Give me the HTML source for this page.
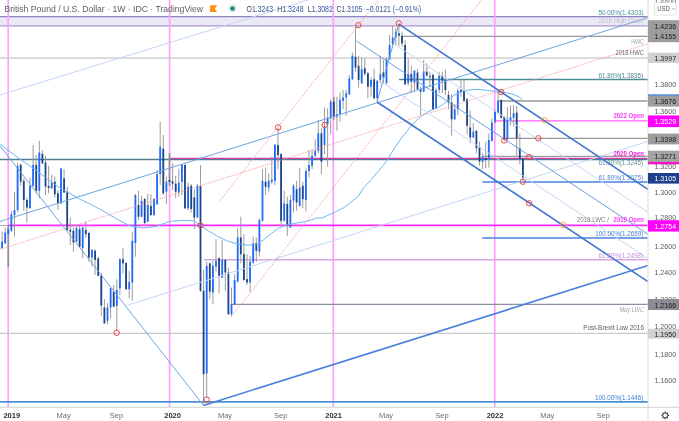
<!DOCTYPE html><html><head><meta charset="utf-8"><title>GBPUSD</title><style>
html,body{margin:0;padding:0;background:#fff;}body{width:679px;height:421px;overflow:hidden;font-family:"Liberation Sans",sans-serif;}svg{display:block;filter:blur(0.35px);font-family:"Liberation Sans",sans-serif;}
</style></head><body>
<svg width="679" height="421" viewBox="0 0 679 421">
<rect width="679" height="421" fill="#fff"/>
<defs><clipPath id="p"><rect x="0" y="0" width="648.0" height="407.3"/></clipPath></defs>
<g clip-path="url(#p)">
<rect x="0" y="16.7" width="648.0" height="9.1" fill="#ece9f6"/>
<line x1="0.0" y1="16.7" x2="648.0" y2="16.7" stroke="#8d82c2" stroke-width="1.3" />
<line x1="0.0" y1="25.8" x2="648.0" y2="25.8" stroke="#ab93d0" stroke-width="1.3" />
<line x1="8.2" y1="0.0" x2="8.2" y2="407.3" stroke="#ff9fff" stroke-width="1.7" />
<line x1="169.6" y1="0.0" x2="169.6" y2="407.3" stroke="#ff9fff" stroke-width="1.7" />
<line x1="333.3" y1="0.0" x2="333.3" y2="407.3" stroke="#ff9fff" stroke-width="1.7" />
<line x1="494.8" y1="0.0" x2="494.8" y2="407.3" stroke="#ff9fff" stroke-width="1.7" />
<line x1="0.0" y1="225.5" x2="8.3" y2="225.5" stroke="#b0b0b0" stroke-width="1.2" />
<line x1="401.7" y1="36.3" x2="648.0" y2="36.3" stroke="#989898" stroke-width="1.3" />
<line x1="0.0" y1="58.0" x2="648.0" y2="58.0" stroke="#cfcfcf" stroke-width="1.4" />
<line x1="399.0" y1="79.5" x2="648.0" y2="79.5" stroke="#4c8b97" stroke-width="1.4" />
<line x1="498.6" y1="101.0" x2="648.0" y2="101.0" stroke="#989898" stroke-width="1.4" />
<line x1="495.0" y1="120.8" x2="648.0" y2="120.8" stroke="#ff5cff" stroke-width="1.3" />
<line x1="504.0" y1="138.4" x2="648.0" y2="138.4" stroke="#989898" stroke-width="1.4" />
<line x1="482.5" y1="156.3" x2="648.0" y2="156.3" stroke="#9c9c9c" stroke-width="1.3" />
<line x1="0.0" y1="159.5" x2="648.0" y2="159.5" stroke="#4f7f8c" stroke-width="1.3" />
<line x1="169.6" y1="158.4" x2="648.0" y2="158.4" stroke="#d63ab0" stroke-width="1.1" />
<line x1="482.5" y1="182.0" x2="648.0" y2="182.0" stroke="#4a84d8" stroke-width="1.6" />
<line x1="8.3" y1="225.4" x2="648.0" y2="225.4" stroke="#ff2aff" stroke-width="1.8" />
<line x1="482.3" y1="238.0" x2="648.0" y2="238.0" stroke="#4a84d8" stroke-width="1.4" />
<line x1="203.7" y1="259.7" x2="648.0" y2="259.7" stroke="#d9a5e3" stroke-width="1.6" />
<line x1="231.7" y1="304.4" x2="648.0" y2="304.4" stroke="#8a8fa3" stroke-width="1.4" />
<line x1="0.0" y1="333.3" x2="648.0" y2="333.3" stroke="#c9c9c9" stroke-width="1.3" />
<line x1="0.0" y1="401.9" x2="648.0" y2="401.9" stroke="#4a90d9" stroke-width="1.7" />
<line x1="2.1" y1="231.7" x2="2.1" y2="249.0" stroke="#909090" stroke-width="0.9" />
<rect x="1.20" y="241.7" width="1.8" height="6.6" fill="#1f6bff"/>
<line x1="5.2" y1="227.5" x2="5.2" y2="244.0" stroke="#909090" stroke-width="0.9" />
<rect x="4.30" y="232.5" width="1.8" height="10.8" fill="#1f6bff"/>
<line x1="8.3" y1="225.8" x2="8.3" y2="267.0" stroke="#909090" stroke-width="1.6" />
<rect x="7.40" y="229.0" width="1.8" height="5.0" fill="#1f6bff"/>
<line x1="11.4" y1="210.8" x2="11.4" y2="232.0" stroke="#909090" stroke-width="0.9" />
<rect x="10.50" y="214.2" width="1.8" height="16.6" fill="#1f6bff"/>
<line x1="14.5" y1="191.7" x2="14.5" y2="236.7" stroke="#909090" stroke-width="0.9" />
<rect x="13.60" y="210.0" width="1.8" height="5.0" fill="#1f6bff"/>
<line x1="17.6" y1="163.0" x2="17.6" y2="212.0" stroke="#909090" stroke-width="0.9" />
<rect x="16.70" y="165.8" width="1.8" height="44.2" fill="#1f6bff"/>
<line x1="20.7" y1="163.8" x2="20.7" y2="185.8" stroke="#909090" stroke-width="0.9" />
<rect x="19.80" y="164.7" width="1.8" height="17.0" fill="#1c4587"/>
<line x1="23.8" y1="178.3" x2="23.8" y2="210.8" stroke="#909090" stroke-width="0.9" />
<rect x="22.90" y="180.8" width="1.8" height="19.2" fill="#1c4587"/>
<line x1="26.9" y1="197.5" x2="26.9" y2="222.5" stroke="#909090" stroke-width="0.9" />
<rect x="26.00" y="200.0" width="1.8" height="7.5" fill="#1c4587"/>
<line x1="30.0" y1="178.0" x2="30.0" y2="209.0" stroke="#909090" stroke-width="0.9" />
<rect x="29.10" y="185.8" width="1.8" height="22.2" fill="#1f6bff"/>
<line x1="33.1" y1="145.0" x2="33.1" y2="187.0" stroke="#909090" stroke-width="0.9" />
<rect x="32.20" y="165.0" width="1.8" height="20.8" fill="#1f6bff"/>
<line x1="36.2" y1="155.3" x2="36.2" y2="193.3" stroke="#909090" stroke-width="0.9" />
<rect x="35.30" y="165.0" width="1.8" height="25.8" fill="#1c4587"/>
<line x1="39.3" y1="140.8" x2="39.3" y2="198.3" stroke="#909090" stroke-width="0.9" />
<rect x="38.40" y="152.5" width="1.8" height="38.3" fill="#1f6bff"/>
<line x1="42.4" y1="150.3" x2="42.4" y2="164.0" stroke="#909090" stroke-width="0.9" />
<rect x="41.50" y="153.8" width="1.8" height="9.5" fill="#1c4587"/>
<line x1="45.5" y1="155.8" x2="45.5" y2="195.0" stroke="#909090" stroke-width="0.9" />
<rect x="44.60" y="162.5" width="1.8" height="24.2" fill="#1c4587"/>
<line x1="48.6" y1="165.8" x2="48.6" y2="193.3" stroke="#909090" stroke-width="0.9" />
<rect x="47.70" y="186.0" width="1.8" height="2.0" fill="#1c4587"/>
<line x1="51.7" y1="174.7" x2="51.7" y2="189.0" stroke="#909090" stroke-width="0.9" />
<rect x="50.80" y="182.5" width="1.8" height="5.8" fill="#1f6bff"/>
<line x1="54.8" y1="176.7" x2="54.8" y2="197.5" stroke="#909090" stroke-width="0.9" />
<rect x="53.90" y="181.7" width="1.8" height="12.5" fill="#1c4587"/>
<line x1="57.9" y1="190.0" x2="57.9" y2="210.0" stroke="#909090" stroke-width="0.9" />
<rect x="57.00" y="193.3" width="1.8" height="10.0" fill="#1c4587"/>
<line x1="61.0" y1="168.0" x2="61.0" y2="204.0" stroke="#909090" stroke-width="0.9" />
<rect x="60.10" y="168.7" width="1.8" height="34.6" fill="#1f6bff"/>
<line x1="64.1" y1="169.5" x2="64.1" y2="193.0" stroke="#909090" stroke-width="0.9" />
<rect x="63.20" y="178.3" width="1.8" height="14.2" fill="#1c4587"/>
<line x1="67.2" y1="186.7" x2="67.2" y2="231.0" stroke="#909090" stroke-width="0.9" />
<rect x="66.30" y="191.7" width="1.8" height="38.3" fill="#1c4587"/>
<line x1="70.3" y1="217.5" x2="70.3" y2="245.0" stroke="#909090" stroke-width="0.9" />
<rect x="69.40" y="229.7" width="1.8" height="2.0" fill="#1c4587"/>
<line x1="73.4" y1="227.5" x2="73.4" y2="251.7" stroke="#909090" stroke-width="0.9" />
<rect x="72.50" y="230.8" width="1.8" height="11.7" fill="#1c4587"/>
<line x1="76.5" y1="225.0" x2="76.5" y2="242.0" stroke="#909090" stroke-width="0.9" />
<rect x="75.60" y="228.0" width="1.8" height="13.7" fill="#1f6bff"/>
<line x1="79.6" y1="225.8" x2="79.6" y2="247.5" stroke="#909090" stroke-width="0.9" />
<rect x="78.70" y="229.2" width="1.8" height="17.5" fill="#1c4587"/>
<line x1="82.7" y1="226.7" x2="82.7" y2="258.3" stroke="#909090" stroke-width="0.9" />
<rect x="81.80" y="227.5" width="1.8" height="20.5" fill="#1f6bff"/>
<line x1="85.8" y1="221.7" x2="85.8" y2="238.0" stroke="#909090" stroke-width="0.9" />
<rect x="84.90" y="230.0" width="1.8" height="4.2" fill="#1c4587"/>
<line x1="88.9" y1="231.7" x2="88.9" y2="261.7" stroke="#909090" stroke-width="0.9" />
<rect x="88.00" y="233.0" width="1.8" height="24.5" fill="#1c4587"/>
<line x1="92.0" y1="249.0" x2="92.0" y2="266.7" stroke="#909090" stroke-width="0.9" />
<rect x="91.10" y="250.0" width="1.8" height="7.5" fill="#1f6bff"/>
<line x1="95.1" y1="249.0" x2="95.1" y2="275.0" stroke="#909090" stroke-width="0.9" />
<rect x="94.20" y="250.8" width="1.8" height="9.2" fill="#1c4587"/>
<line x1="98.2" y1="256.7" x2="98.2" y2="276.0" stroke="#909090" stroke-width="0.9" />
<rect x="97.30" y="258.3" width="1.8" height="17.5" fill="#1c4587"/>
<line x1="101.3" y1="273.0" x2="101.3" y2="315.8" stroke="#909090" stroke-width="0.9" />
<rect x="100.40" y="275.5" width="1.8" height="30.0" fill="#1c4587"/>
<line x1="104.4" y1="299.2" x2="104.4" y2="324.0" stroke="#909090" stroke-width="0.9" />
<rect x="103.50" y="307.5" width="1.8" height="15.8" fill="#1c4587"/>
<line x1="107.5" y1="303.3" x2="107.5" y2="324.2" stroke="#909090" stroke-width="0.9" />
<rect x="106.60" y="307.5" width="1.8" height="13.3" fill="#1f6bff"/>
<line x1="110.6" y1="287.5" x2="110.6" y2="318.3" stroke="#909090" stroke-width="0.9" />
<rect x="109.70" y="288.3" width="1.8" height="19.2" fill="#1f6bff"/>
<line x1="113.7" y1="285.0" x2="113.7" y2="307.5" stroke="#909090" stroke-width="0.9" />
<rect x="112.80" y="291.7" width="1.8" height="15.0" fill="#1c4587"/>
<line x1="116.8" y1="279.2" x2="116.8" y2="330.8" stroke="#909090" stroke-width="0.9" />
<rect x="115.90" y="290.0" width="1.8" height="15.8" fill="#1f6bff"/>
<line x1="119.9" y1="258.3" x2="119.9" y2="295.0" stroke="#909090" stroke-width="0.9" />
<rect x="119.00" y="259.2" width="1.8" height="29.1" fill="#1f6bff"/>
<line x1="123.0" y1="248.3" x2="123.0" y2="273.3" stroke="#909090" stroke-width="0.9" />
<rect x="122.10" y="259.2" width="1.8" height="4.1" fill="#1c4587"/>
<line x1="126.1" y1="262.0" x2="126.1" y2="290.0" stroke="#909090" stroke-width="0.9" />
<rect x="125.20" y="263.0" width="1.8" height="26.2" fill="#1c4587"/>
<line x1="129.2" y1="270.8" x2="129.2" y2="298.3" stroke="#909090" stroke-width="0.9" />
<rect x="128.30" y="282.0" width="1.8" height="7.2" fill="#1f6bff"/>
<line x1="132.3" y1="231.7" x2="132.3" y2="300.5" stroke="#909090" stroke-width="0.9" />
<rect x="131.40" y="240.8" width="1.8" height="41.7" fill="#1f6bff"/>
<line x1="135.4" y1="194.0" x2="135.4" y2="256.7" stroke="#909090" stroke-width="0.9" />
<rect x="134.50" y="195.0" width="1.8" height="48.0" fill="#1f6bff"/>
<line x1="138.5" y1="190.8" x2="138.5" y2="220.0" stroke="#909090" stroke-width="0.9" />
<rect x="137.60" y="205.0" width="1.8" height="11.7" fill="#1c4587"/>
<line x1="141.6" y1="195.8" x2="141.6" y2="217.5" stroke="#909090" stroke-width="0.9" />
<rect x="140.70" y="201.0" width="1.8" height="15.7" fill="#1f6bff"/>
<line x1="144.7" y1="198.0" x2="144.7" y2="224.0" stroke="#909090" stroke-width="0.9" />
<rect x="143.80" y="199.0" width="1.8" height="24.0" fill="#1c4587"/>
<line x1="147.8" y1="194.0" x2="147.8" y2="222.5" stroke="#909090" stroke-width="0.9" />
<rect x="146.90" y="205.0" width="1.8" height="16.7" fill="#1f6bff"/>
<line x1="150.9" y1="194.2" x2="150.9" y2="216.0" stroke="#909090" stroke-width="0.9" />
<rect x="150.00" y="205.8" width="1.8" height="9.2" fill="#1c4587"/>
<line x1="154.0" y1="198.3" x2="154.0" y2="216.0" stroke="#909090" stroke-width="0.9" />
<rect x="153.10" y="199.0" width="1.8" height="16.0" fill="#1f6bff"/>
<line x1="157.1" y1="170.0" x2="157.1" y2="205.0" stroke="#909090" stroke-width="0.9" />
<rect x="156.20" y="174.2" width="1.8" height="30.0" fill="#1f6bff"/>
<line x1="160.2" y1="121.5" x2="160.2" y2="185.0" stroke="#909090" stroke-width="0.9" />
<rect x="159.30" y="146.7" width="1.8" height="27.5" fill="#1f6bff"/>
<line x1="163.3" y1="135.0" x2="163.3" y2="195.0" stroke="#909090" stroke-width="0.9" />
<rect x="162.40" y="148.7" width="1.8" height="44.6" fill="#1c4587"/>
<line x1="166.4" y1="176.7" x2="166.4" y2="204.2" stroke="#909090" stroke-width="0.9" />
<rect x="165.50" y="181.7" width="1.8" height="10.0" fill="#1f6bff"/>
<line x1="169.5" y1="153.3" x2="169.5" y2="186.0" stroke="#909090" stroke-width="1.6" />
<rect x="168.60" y="180.0" width="1.8" height="2.0" fill="#1c4587"/>
<line x1="172.6" y1="163.3" x2="172.6" y2="190.0" stroke="#909090" stroke-width="0.9" />
<rect x="171.70" y="181.3" width="1.8" height="2.4" fill="#1c4587"/>
<line x1="175.7" y1="175.8" x2="175.7" y2="198.3" stroke="#909090" stroke-width="0.9" />
<rect x="174.80" y="183.7" width="1.8" height="8.0" fill="#1c4587"/>
<line x1="178.8" y1="168.7" x2="178.8" y2="196.7" stroke="#909090" stroke-width="0.9" />
<rect x="177.90" y="182.5" width="1.8" height="10.0" fill="#1f6bff"/>
<line x1="181.9" y1="164.0" x2="181.9" y2="195.0" stroke="#909090" stroke-width="0.9" />
<rect x="181.00" y="164.7" width="1.8" height="17.3" fill="#1f6bff"/>
<line x1="185.0" y1="163.0" x2="185.0" y2="209.0" stroke="#909090" stroke-width="0.9" />
<rect x="184.10" y="165.0" width="1.8" height="43.3" fill="#1c4587"/>
<line x1="188.1" y1="182.5" x2="188.1" y2="210.0" stroke="#909090" stroke-width="0.9" />
<rect x="187.20" y="186.7" width="1.8" height="21.6" fill="#1f6bff"/>
<line x1="191.2" y1="184.0" x2="191.2" y2="212.5" stroke="#909090" stroke-width="0.9" />
<rect x="190.30" y="185.8" width="1.8" height="23.2" fill="#1c4587"/>
<line x1="194.3" y1="189.2" x2="194.3" y2="229.2" stroke="#909090" stroke-width="0.9" />
<rect x="193.40" y="197.5" width="1.8" height="20.0" fill="#1c4587"/>
<line x1="197.4" y1="184.0" x2="197.4" y2="218.0" stroke="#909090" stroke-width="0.9" />
<rect x="196.50" y="185.8" width="1.8" height="31.7" fill="#1f6bff"/>
<line x1="200.5" y1="165.0" x2="200.5" y2="292.0" stroke="#909090" stroke-width="0.9" />
<rect x="199.60" y="185.8" width="1.8" height="105.0" fill="#1c4587"/>
<line x1="203.6" y1="270.0" x2="203.6" y2="404.4" stroke="#909090" stroke-width="0.9" />
<rect x="202.70" y="290.8" width="1.8" height="83.4" fill="#1c4587"/>
<line x1="206.7" y1="261.7" x2="206.7" y2="397.7" stroke="#909090" stroke-width="0.9" />
<rect x="205.80" y="265.8" width="1.8" height="107.5" fill="#1f6bff"/>
<line x1="209.8" y1="262.5" x2="209.8" y2="299.2" stroke="#909090" stroke-width="0.9" />
<rect x="208.90" y="263.3" width="1.8" height="28.4" fill="#1c4587"/>
<line x1="212.9" y1="260.8" x2="212.9" y2="304.2" stroke="#909090" stroke-width="0.9" />
<rect x="212.00" y="265.8" width="1.8" height="26.7" fill="#1f6bff"/>
<line x1="216.0" y1="239.2" x2="216.0" y2="271.7" stroke="#909090" stroke-width="0.9" />
<rect x="215.10" y="260.8" width="1.8" height="5.9" fill="#1f6bff"/>
<line x1="219.1" y1="257.0" x2="219.1" y2="293.3" stroke="#909090" stroke-width="0.9" />
<rect x="218.20" y="258.3" width="1.8" height="17.5" fill="#1c4587"/>
<line x1="222.2" y1="240.0" x2="222.2" y2="278.0" stroke="#909090" stroke-width="0.9" />
<rect x="221.30" y="260.0" width="1.8" height="17.5" fill="#1f6bff"/>
<line x1="225.3" y1="259.0" x2="225.3" y2="290.8" stroke="#909090" stroke-width="0.9" />
<rect x="224.40" y="260.0" width="1.8" height="12.5" fill="#1c4587"/>
<line x1="228.4" y1="267.5" x2="228.4" y2="315.0" stroke="#909090" stroke-width="0.9" />
<rect x="227.50" y="272.5" width="1.8" height="41.7" fill="#1c4587"/>
<line x1="231.5" y1="287.5" x2="231.5" y2="315.8" stroke="#909090" stroke-width="0.9" />
<rect x="230.60" y="304.2" width="1.8" height="10.0" fill="#1f6bff"/>
<line x1="234.6" y1="274.2" x2="234.6" y2="305.0" stroke="#909090" stroke-width="0.9" />
<rect x="233.70" y="280.0" width="1.8" height="24.2" fill="#1f6bff"/>
<line x1="237.7" y1="228.3" x2="237.7" y2="282.5" stroke="#909090" stroke-width="0.9" />
<rect x="236.80" y="237.5" width="1.8" height="44.2" fill="#1f6bff"/>
<line x1="240.8" y1="216.7" x2="240.8" y2="263.3" stroke="#909090" stroke-width="0.9" />
<rect x="239.90" y="237.5" width="1.8" height="16.7" fill="#1c4587"/>
<line x1="243.9" y1="234.2" x2="243.9" y2="281.0" stroke="#909090" stroke-width="0.9" />
<rect x="243.00" y="254.2" width="1.8" height="25.8" fill="#1c4587"/>
<line x1="247.0" y1="254.2" x2="247.0" y2="285.0" stroke="#909090" stroke-width="0.9" />
<rect x="246.10" y="279.2" width="1.8" height="3.3" fill="#1c4587"/>
<line x1="250.1" y1="255.8" x2="250.1" y2="291.7" stroke="#909090" stroke-width="0.9" />
<rect x="249.20" y="261.7" width="1.8" height="20.8" fill="#1f6bff"/>
<line x1="253.2" y1="236.7" x2="253.2" y2="264.2" stroke="#909090" stroke-width="0.9" />
<rect x="252.30" y="243.3" width="1.8" height="19.2" fill="#1f6bff"/>
<line x1="256.3" y1="237.5" x2="256.3" y2="261.7" stroke="#909090" stroke-width="0.9" />
<rect x="255.40" y="243.3" width="1.8" height="7.5" fill="#1c4587"/>
<line x1="259.4" y1="218.3" x2="259.4" y2="256.7" stroke="#909090" stroke-width="0.9" />
<rect x="258.50" y="220.0" width="1.8" height="31.7" fill="#1f6bff"/>
<line x1="262.5" y1="169.2" x2="262.5" y2="221.5" stroke="#909090" stroke-width="0.9" />
<rect x="261.60" y="180.8" width="1.8" height="40.0" fill="#1f6bff"/>
<line x1="265.6" y1="167.5" x2="265.6" y2="195.0" stroke="#909090" stroke-width="0.9" />
<rect x="264.70" y="181.7" width="1.8" height="5.0" fill="#1c4587"/>
<line x1="268.7" y1="173.3" x2="268.7" y2="191.7" stroke="#909090" stroke-width="0.9" />
<rect x="267.80" y="180.8" width="1.8" height="6.7" fill="#1f6bff"/>
<line x1="271.8" y1="156.7" x2="271.8" y2="184.2" stroke="#909090" stroke-width="0.9" />
<rect x="270.90" y="179.7" width="1.8" height="2.3" fill="#1f6bff"/>
<line x1="274.9" y1="144.0" x2="274.9" y2="185.0" stroke="#909090" stroke-width="0.9" />
<rect x="274.00" y="144.7" width="1.8" height="36.1" fill="#1f6bff"/>
<line x1="278.0" y1="127.6" x2="278.0" y2="169.2" stroke="#909090" stroke-width="0.9" />
<rect x="277.10" y="145.0" width="1.8" height="10.0" fill="#1c4587"/>
<line x1="281.1" y1="153.0" x2="281.1" y2="224.2" stroke="#909090" stroke-width="0.9" />
<rect x="280.20" y="154.2" width="1.8" height="66.6" fill="#1c4587"/>
<line x1="284.2" y1="190.8" x2="284.2" y2="221.5" stroke="#909090" stroke-width="0.9" />
<rect x="283.30" y="203.3" width="1.8" height="17.5" fill="#1f6bff"/>
<line x1="287.3" y1="196.7" x2="287.3" y2="235.8" stroke="#909090" stroke-width="0.9" />
<rect x="286.40" y="204.0" width="1.8" height="21.8" fill="#1c4587"/>
<line x1="290.4" y1="195.0" x2="290.4" y2="228.0" stroke="#909090" stroke-width="0.9" />
<rect x="289.50" y="200.0" width="1.8" height="27.5" fill="#1f6bff"/>
<line x1="293.5" y1="184.0" x2="293.5" y2="212.5" stroke="#909090" stroke-width="0.9" />
<rect x="292.60" y="185.8" width="1.8" height="14.7" fill="#1f6bff"/>
<line x1="296.6" y1="180.8" x2="296.6" y2="210.8" stroke="#909090" stroke-width="0.9" />
<rect x="295.70" y="189.2" width="1.8" height="13.3" fill="#1c4587"/>
<line x1="299.7" y1="168.3" x2="299.7" y2="206.5" stroke="#909090" stroke-width="0.9" />
<rect x="298.80" y="187.5" width="1.8" height="18.3" fill="#1f6bff"/>
<line x1="302.8" y1="181.7" x2="302.8" y2="208.3" stroke="#909090" stroke-width="0.9" />
<rect x="301.90" y="185.8" width="1.8" height="13.4" fill="#1c4587"/>
<line x1="305.9" y1="168.3" x2="305.9" y2="211.7" stroke="#909090" stroke-width="0.9" />
<rect x="305.00" y="171.0" width="1.8" height="29.0" fill="#1f6bff"/>
<line x1="309.0" y1="150.0" x2="309.0" y2="177.5" stroke="#909090" stroke-width="0.9" />
<rect x="308.10" y="165.0" width="1.8" height="6.0" fill="#1f6bff"/>
<line x1="312.1" y1="149.5" x2="312.1" y2="169.0" stroke="#909090" stroke-width="0.9" />
<rect x="311.20" y="155.8" width="1.8" height="10.0" fill="#1f6bff"/>
<line x1="315.2" y1="139.2" x2="315.2" y2="157.0" stroke="#909090" stroke-width="0.9" />
<rect x="314.30" y="150.8" width="1.8" height="5.0" fill="#1f6bff"/>
<line x1="318.3" y1="120.0" x2="318.3" y2="153.3" stroke="#909090" stroke-width="0.9" />
<rect x="317.40" y="133.3" width="1.8" height="17.5" fill="#1f6bff"/>
<line x1="321.4" y1="128.3" x2="321.4" y2="174.2" stroke="#909090" stroke-width="0.9" />
<rect x="320.50" y="133.3" width="1.8" height="28.4" fill="#1c4587"/>
<line x1="324.5" y1="107.5" x2="324.5" y2="154.2" stroke="#909090" stroke-width="0.9" />
<rect x="323.60" y="126.7" width="1.8" height="18.3" fill="#1f6bff"/>
<line x1="327.6" y1="108.3" x2="327.6" y2="166.7" stroke="#909090" stroke-width="0.9" />
<rect x="326.70" y="117.5" width="1.8" height="6.7" fill="#1f6bff"/>
<line x1="330.7" y1="99.2" x2="330.7" y2="134.2" stroke="#909090" stroke-width="0.9" />
<rect x="329.80" y="101.7" width="1.8" height="16.6" fill="#1f6bff"/>
<line x1="333.8" y1="97.0" x2="333.8" y2="119.7" stroke="#909090" stroke-width="1.6" />
<rect x="332.90" y="101.6" width="1.8" height="14.9" fill="#1c4587"/>
<line x1="336.9" y1="96.7" x2="336.9" y2="130.8" stroke="#909090" stroke-width="0.9" />
<rect x="336.00" y="114.2" width="1.8" height="2.5" fill="#1f6bff"/>
<line x1="340.0" y1="92.5" x2="340.0" y2="121.7" stroke="#909090" stroke-width="0.9" />
<rect x="339.10" y="99.5" width="1.8" height="14.7" fill="#1f6bff"/>
<line x1="343.1" y1="90.0" x2="343.1" y2="109.2" stroke="#909090" stroke-width="0.9" />
<rect x="342.20" y="97.5" width="1.8" height="3.3" fill="#1f6bff"/>
<line x1="346.2" y1="90.0" x2="346.2" y2="115.8" stroke="#909090" stroke-width="0.9" />
<rect x="345.30" y="93.3" width="1.8" height="4.2" fill="#1f6bff"/>
<line x1="349.3" y1="75.0" x2="349.3" y2="95.0" stroke="#909090" stroke-width="0.9" />
<rect x="348.40" y="78.3" width="1.8" height="15.9" fill="#1f6bff"/>
<line x1="352.4" y1="52.5" x2="352.4" y2="80.0" stroke="#909090" stroke-width="0.9" />
<rect x="351.50" y="55.8" width="1.8" height="23.4" fill="#1f6bff"/>
<line x1="355.5" y1="27.0" x2="355.5" y2="71.7" stroke="#909090" stroke-width="0.9" />
<rect x="354.60" y="56.7" width="1.8" height="10.8" fill="#1c4587"/>
<line x1="358.6" y1="55.8" x2="358.6" y2="87.5" stroke="#909090" stroke-width="0.9" />
<rect x="357.70" y="65.8" width="1.8" height="14.2" fill="#1c4587"/>
<line x1="361.7" y1="57.5" x2="361.7" y2="84.0" stroke="#909090" stroke-width="0.9" />
<rect x="360.80" y="69.2" width="1.8" height="14.1" fill="#1f6bff"/>
<line x1="364.8" y1="58.3" x2="364.8" y2="75.8" stroke="#909090" stroke-width="0.9" />
<rect x="363.90" y="68.3" width="1.8" height="5.4" fill="#1c4587"/>
<line x1="367.9" y1="72.0" x2="367.9" y2="98.3" stroke="#909090" stroke-width="0.9" />
<rect x="367.00" y="73.3" width="1.8" height="13.4" fill="#1c4587"/>
<line x1="371.0" y1="77.5" x2="371.0" y2="96.7" stroke="#909090" stroke-width="0.9" />
<rect x="370.10" y="80.0" width="1.8" height="6.7" fill="#1f6bff"/>
<line x1="374.1" y1="68.7" x2="374.1" y2="99.0" stroke="#909090" stroke-width="0.9" />
<rect x="373.20" y="79.2" width="1.8" height="19.1" fill="#1c4587"/>
<line x1="377.2" y1="80.0" x2="377.2" y2="100.5" stroke="#909090" stroke-width="0.9" />
<rect x="376.30" y="80.8" width="1.8" height="17.5" fill="#1f6bff"/>
<line x1="380.3" y1="55.8" x2="380.3" y2="83.3" stroke="#909090" stroke-width="0.9" />
<rect x="379.40" y="74.2" width="1.8" height="5.8" fill="#1f6bff"/>
<line x1="383.4" y1="60.0" x2="383.4" y2="83.3" stroke="#909090" stroke-width="0.9" />
<rect x="382.50" y="72.5" width="1.8" height="5.0" fill="#1c4587"/>
<line x1="386.5" y1="57.5" x2="386.5" y2="84.0" stroke="#909090" stroke-width="0.9" />
<rect x="385.60" y="59.2" width="1.8" height="24.1" fill="#1f6bff"/>
<line x1="389.6" y1="35.0" x2="389.6" y2="60.0" stroke="#909090" stroke-width="0.9" />
<rect x="388.70" y="45.0" width="1.8" height="14.5" fill="#1f6bff"/>
<line x1="392.7" y1="25.8" x2="392.7" y2="45.0" stroke="#909090" stroke-width="0.9" />
<rect x="391.80" y="37.5" width="1.8" height="6.7" fill="#1f6bff"/>
<line x1="395.8" y1="28.3" x2="395.8" y2="45.0" stroke="#909090" stroke-width="0.9" />
<rect x="394.90" y="31.7" width="1.8" height="5.8" fill="#1f6bff"/>
<line x1="398.9" y1="23.3" x2="398.9" y2="45.8" stroke="#909090" stroke-width="0.9" />
<rect x="398.00" y="33.3" width="1.8" height="2.5" fill="#1c4587"/>
<line x1="402.0" y1="31.7" x2="402.0" y2="46.7" stroke="#909090" stroke-width="0.9" />
<rect x="401.10" y="35.8" width="1.8" height="7.5" fill="#1c4587"/>
<line x1="405.1" y1="40.0" x2="405.1" y2="85.0" stroke="#909090" stroke-width="0.9" />
<rect x="404.20" y="45.0" width="1.8" height="39.2" fill="#1c4587"/>
<line x1="408.2" y1="58.3" x2="408.2" y2="85.8" stroke="#909090" stroke-width="0.9" />
<rect x="407.30" y="74.2" width="1.8" height="9.1" fill="#1f6bff"/>
<line x1="411.3" y1="65.8" x2="411.3" y2="92.5" stroke="#909090" stroke-width="0.9" />
<rect x="410.40" y="74.2" width="1.8" height="7.5" fill="#1c4587"/>
<line x1="414.4" y1="70.0" x2="414.4" y2="91.7" stroke="#909090" stroke-width="0.9" />
<rect x="413.50" y="70.8" width="1.8" height="11.7" fill="#1f6bff"/>
<line x1="417.5" y1="69.2" x2="417.5" y2="90.0" stroke="#909090" stroke-width="0.9" />
<rect x="416.60" y="72.5" width="1.8" height="16.7" fill="#1c4587"/>
<line x1="420.6" y1="86.7" x2="420.6" y2="115.0" stroke="#909090" stroke-width="0.9" />
<rect x="419.70" y="89.2" width="1.8" height="2.5" fill="#1c4587"/>
<line x1="423.7" y1="60.0" x2="423.7" y2="92.0" stroke="#909090" stroke-width="0.9" />
<rect x="422.80" y="71.7" width="1.8" height="20.0" fill="#1f6bff"/>
<line x1="426.8" y1="63.3" x2="426.8" y2="77.0" stroke="#909090" stroke-width="0.9" />
<rect x="425.90" y="71.7" width="1.8" height="3.8" fill="#1c4587"/>
<line x1="429.9" y1="71.7" x2="429.9" y2="86.7" stroke="#909090" stroke-width="0.9" />
<rect x="429.00" y="75.8" width="1.8" height="1.7" fill="#1f6bff"/>
<line x1="433.0" y1="73.3" x2="433.0" y2="110.0" stroke="#909090" stroke-width="0.9" />
<rect x="432.10" y="75.0" width="1.8" height="34.2" fill="#1c4587"/>
<line x1="436.1" y1="87.5" x2="436.1" y2="109.0" stroke="#909090" stroke-width="0.9" />
<rect x="435.20" y="90.0" width="1.8" height="18.3" fill="#1f6bff"/>
<line x1="439.2" y1="71.7" x2="439.2" y2="93.3" stroke="#909090" stroke-width="0.9" />
<rect x="438.30" y="75.8" width="1.8" height="14.2" fill="#1f6bff"/>
<line x1="442.3" y1="71.7" x2="442.3" y2="93.3" stroke="#909090" stroke-width="0.9" />
<rect x="441.40" y="75.8" width="1.8" height="5.0" fill="#1c4587"/>
<line x1="445.4" y1="69.2" x2="445.4" y2="95.0" stroke="#909090" stroke-width="0.9" />
<rect x="444.50" y="80.0" width="1.8" height="10.0" fill="#1c4587"/>
<line x1="448.5" y1="90.8" x2="448.5" y2="109.2" stroke="#909090" stroke-width="0.9" />
<rect x="447.60" y="95.0" width="1.8" height="7.5" fill="#1c4587"/>
<line x1="451.6" y1="94.2" x2="451.6" y2="135.8" stroke="#909090" stroke-width="0.9" />
<rect x="450.70" y="102.5" width="1.8" height="16.7" fill="#1c4587"/>
<line x1="454.7" y1="104.2" x2="454.7" y2="120.0" stroke="#909090" stroke-width="0.9" />
<rect x="453.80" y="109.2" width="1.8" height="10.0" fill="#1f6bff"/>
<line x1="457.8" y1="88.3" x2="457.8" y2="115.0" stroke="#909090" stroke-width="0.9" />
<rect x="456.90" y="90.8" width="1.8" height="18.4" fill="#1f6bff"/>
<line x1="460.9" y1="80.0" x2="460.9" y2="96.7" stroke="#909090" stroke-width="0.9" />
<rect x="460.00" y="90.0" width="1.8" height="2.0" fill="#1c4587"/>
<line x1="464.0" y1="80.0" x2="464.0" y2="101.5" stroke="#909090" stroke-width="0.9" />
<rect x="463.10" y="90.8" width="1.8" height="10.0" fill="#1c4587"/>
<line x1="467.1" y1="98.0" x2="467.1" y2="134.5" stroke="#909090" stroke-width="0.9" />
<rect x="466.20" y="99.2" width="1.8" height="26.6" fill="#1c4587"/>
<line x1="470.2" y1="110.5" x2="470.2" y2="143.3" stroke="#909090" stroke-width="0.9" />
<rect x="469.30" y="127.5" width="1.8" height="10.0" fill="#1c4587"/>
<line x1="473.3" y1="123.3" x2="473.3" y2="138.0" stroke="#909090" stroke-width="0.9" />
<rect x="472.40" y="131.7" width="1.8" height="5.8" fill="#1f6bff"/>
<line x1="476.4" y1="130.0" x2="476.4" y2="153.3" stroke="#909090" stroke-width="0.9" />
<rect x="475.50" y="130.8" width="1.8" height="17.5" fill="#1c4587"/>
<line x1="479.5" y1="141.7" x2="479.5" y2="165.8" stroke="#909090" stroke-width="0.9" />
<rect x="478.60" y="147.5" width="1.8" height="14.2" fill="#1c4587"/>
<line x1="482.6" y1="153.3" x2="482.6" y2="169.2" stroke="#909090" stroke-width="0.9" />
<rect x="481.70" y="156.7" width="1.8" height="5.0" fill="#1f6bff"/>
<line x1="485.7" y1="141.7" x2="485.7" y2="168.3" stroke="#909090" stroke-width="0.9" />
<rect x="484.80" y="158.0" width="1.8" height="2.0" fill="#1c4587"/>
<line x1="488.8" y1="133.3" x2="488.8" y2="167.5" stroke="#909090" stroke-width="0.9" />
<rect x="487.90" y="140.0" width="1.8" height="19.2" fill="#1f6bff"/>
<line x1="491.9" y1="118.3" x2="491.9" y2="141.5" stroke="#909090" stroke-width="0.9" />
<rect x="491.00" y="122.5" width="1.8" height="18.3" fill="#1f6bff"/>
<line x1="495.0" y1="110.0" x2="495.0" y2="123.0" stroke="#909090" stroke-width="1.6" />
<rect x="494.10" y="111.9" width="1.8" height="9.6" fill="#1f6bff"/>
<line x1="498.1" y1="92.0" x2="498.1" y2="114.0" stroke="#909090" stroke-width="0.9" />
<rect x="497.20" y="100.6" width="1.8" height="12.6" fill="#1f6bff"/>
<line x1="501.2" y1="99.3" x2="501.2" y2="118.5" stroke="#909090" stroke-width="0.9" />
<rect x="500.30" y="100.0" width="1.8" height="17.9" fill="#1c4587"/>
<line x1="504.3" y1="116.0" x2="504.3" y2="141.7" stroke="#909090" stroke-width="0.9" />
<rect x="503.40" y="117.0" width="1.8" height="23.0" fill="#1c4587"/>
<line x1="507.4" y1="107.3" x2="507.4" y2="140.0" stroke="#909090" stroke-width="0.9" />
<rect x="506.50" y="118.8" width="1.8" height="20.4" fill="#1f6bff"/>
<line x1="510.5" y1="105.3" x2="510.5" y2="125.5" stroke="#909090" stroke-width="0.9" />
<rect x="509.60" y="117.2" width="1.8" height="4.0" fill="#1f6bff"/>
<line x1="513.6" y1="105.3" x2="513.6" y2="126.2" stroke="#909090" stroke-width="0.9" />
<rect x="512.70" y="113.2" width="1.8" height="4.7" fill="#1f6bff"/>
<line x1="516.7" y1="105.9" x2="516.7" y2="155.8" stroke="#909090" stroke-width="0.9" />
<rect x="515.80" y="112.6" width="1.8" height="25.7" fill="#1c4587"/>
<line x1="519.8" y1="133.3" x2="519.8" y2="164.2" stroke="#909090" stroke-width="0.9" />
<rect x="518.90" y="148.3" width="1.8" height="10.9" fill="#1c4587"/>
<line x1="522.9" y1="157.8" x2="522.9" y2="181.7" stroke="#909090" stroke-width="0.9" />
<rect x="522.00" y="158.3" width="1.8" height="19.4" fill="#1c4587"/>
<polyline fill="none" stroke="#6bb8f3" stroke-width="1" stroke-linejoin="round" points="0.0,143.8 10.0,151.7 20.0,159.2 33.3,168.3 46.7,178.3 56.7,185.8 66.7,191.7 78.3,198.3 90.0,204.0 100.0,209.2 110.0,215.0 120.0,220.8 130.0,225.8 143.3,228.0 155.0,226.7 170.0,221.3 183.3,220.3 193.3,220.8 200.0,225.0 208.3,230.8 216.7,235.8 226.7,240.8 236.7,243.7 248.3,245.3 256.7,244.2 263.3,240.0 271.7,233.3 278.3,228.3 286.7,225.0 296.7,223.0 306.7,221.3 310.0,220.2 316.7,218.0 321.7,218.0 333.3,213.0 343.3,208.0 351.7,201.7 358.3,196.3 363.3,188.3 370.0,180.8 378.3,171.3 386.7,160.8 393.3,150.0 400.0,140.0 406.7,131.7 413.3,123.3 421.7,115.8 430.0,110.8 438.3,107.5 446.7,101.7 453.3,95.8 463.3,90.8 470.0,90.0 478.0,89.3 487.3,90.4 496.6,91.7 505.9,92.6 513.9,94.6 519.2,97.0 522.5,100.0"/>
<line x1="0.0" y1="249.4" x2="648.0" y2="43.7" stroke="#f49595" stroke-width="1" stroke-dasharray="1 1"/>
<line x1="126.7" y1="305.5" x2="648.0" y2="141.4" stroke="#c2d6f7" stroke-width="1" />
<line x1="0.0" y1="221.5" x2="648.0" y2="17.5" stroke="#6fa4dc" stroke-width="1" />
<line x1="0.0" y1="95.0" x2="308.0" y2="0.0" stroke="#c2d6f7" stroke-width="1" />
<line x1="0.0" y1="145.9" x2="203.5" y2="405.4" stroke="#6aa4e2" stroke-width="1" />
<line x1="203.5" y1="405.4" x2="648.0" y2="265.5" stroke="#4a7fdc" stroke-width="1.6" />
<line x1="231.3" y1="316.7" x2="481.5" y2="0.0" stroke="#f49595" stroke-width="1" stroke-dasharray="1 1"/>
<line x1="218.4" y1="202.7" x2="378.2" y2="0.0" stroke="#f49595" stroke-width="1" stroke-dasharray="1 1"/>
<line x1="377.0" y1="102.0" x2="398.8" y2="24.2" stroke="#6b9fdb" stroke-width="1" />
<line x1="393.4" y1="43.6" x2="648.0" y2="212.4" stroke="#c2d6f7" stroke-width="1" />
<line x1="382.4" y1="82.6" x2="648.0" y2="258.7" stroke="#c2d6f7" stroke-width="1" />
<line x1="356.5" y1="41.0" x2="648.0" y2="234.3" stroke="#6b9fdb" stroke-width="1" />
<line x1="398.8" y1="24.2" x2="648.0" y2="189.4" stroke="#4076cf" stroke-width="1.6" />
<line x1="377.0" y1="102.0" x2="648.0" y2="281.7" stroke="#4076cf" stroke-width="1.6" />
<circle cx="324.6" cy="124.9" r="2.7" fill="none" stroke="#ea4444" stroke-width="1"/>
<circle cx="278.1" cy="127.4" r="2.7" fill="none" stroke="#ea4444" stroke-width="1"/>
<circle cx="358.3" cy="25.2" r="2.7" fill="none" stroke="#ea4444" stroke-width="1"/>
<circle cx="398.8" cy="23.3" r="2.7" fill="none" stroke="#ea4444" stroke-width="1"/>
<circle cx="116.7" cy="332.8" r="2.7" fill="none" stroke="#ea4444" stroke-width="1"/>
<circle cx="200.6" cy="225.5" r="2.7" fill="none" stroke="#ea4444" stroke-width="1"/>
<circle cx="206.7" cy="399.6" r="2.7" fill="none" stroke="#ea4444" stroke-width="1"/>
<circle cx="501.2" cy="92" r="2.7" fill="none" stroke="#ea4444" stroke-width="1"/>
<circle cx="504.2" cy="140.5" r="2.7" fill="none" stroke="#ea4444" stroke-width="1"/>
<circle cx="538.3" cy="138.3" r="2.7" fill="none" stroke="#ea4444" stroke-width="1"/>
<circle cx="529.2" cy="157" r="2.7" fill="none" stroke="#ea4444" stroke-width="1"/>
<circle cx="522.8" cy="181.7" r="2.7" fill="none" stroke="#ea4444" stroke-width="1"/>
<circle cx="529.2" cy="203.3" r="2.7" fill="none" stroke="#ea4444" stroke-width="1"/>
<circle cx="544.5" cy="120.3" r="2.7" fill="none" stroke="#f5a133" stroke-width="0.9"/>
<circle cx="563.3" cy="225.1" r="2.7" fill="none" stroke="#f5a133" stroke-width="0.9"/>
<text x="643.6" y="14.6" fill="#43909d" font-size="6.6" text-anchor="end" font-weight="normal" font-style="normal" textLength="45.2" lengthAdjust="spacingAndGlyphs">50.00%(1.4303)</text>
<text x="643.6" y="23.3" fill="#bdbdc6" font-size="6.6" text-anchor="end" font-weight="normal" font-style="normal" textLength="45.2" lengthAdjust="spacingAndGlyphs">2018 High Close</text>
<text x="644" y="43.6" fill="#a4a4a4" font-size="6.6" text-anchor="end" font-weight="normal" font-style="normal" textLength="12.8" lengthAdjust="spacingAndGlyphs">HWC</text>
<text x="644" y="54.7" fill="#6a6a6a" font-size="6.6" text-anchor="end" font-weight="normal" font-style="normal" textLength="28.6" lengthAdjust="spacingAndGlyphs">2018 HWC</text>
<text x="643.2" y="78.1" fill="#4a8793" font-size="6.6" text-anchor="end" font-weight="normal" font-style="normal" textLength="44.8" lengthAdjust="spacingAndGlyphs">61.80%(1.3835)</text>
<text x="644" y="118.3" fill="#ff35ff" font-size="6.6" text-anchor="end" font-weight="bold" font-style="normal" textLength="30.6" lengthAdjust="spacingAndGlyphs">2022 Open</text>
<text x="644" y="155.5" fill="#f01fd0" font-size="6.6" text-anchor="end" font-weight="bold" font-style="normal" textLength="30.6" lengthAdjust="spacingAndGlyphs">2020 Open</text>
<text x="643.2" y="165.3" fill="#5f8f96" font-size="6.6" text-anchor="end" font-weight="normal" font-style="normal" textLength="44.8" lengthAdjust="spacingAndGlyphs">61.80%(1.3245)</text>
<text x="643.2" y="180.1" fill="#4a84d8" font-size="6.6" text-anchor="end" font-weight="normal" font-style="normal" textLength="44.8" lengthAdjust="spacingAndGlyphs">61.80%(1.3075)</text>
<text x="644" y="222.2" fill="#ff35ff" font-size="6.6" text-anchor="end" font-weight="bold" font-style="normal" textLength="30.4" lengthAdjust="spacingAndGlyphs">2019 Open</text>
<text x="609" y="222.2" fill="#7c7c7c" font-size="6.6" text-anchor="end" font-weight="normal" font-style="normal" textLength="32.2" lengthAdjust="spacingAndGlyphs">2018 LWC /</text>
<text x="643.2" y="236" fill="#3f7fd6" font-size="6.6" text-anchor="end" font-weight="normal" font-style="normal" textLength="47.9" lengthAdjust="spacingAndGlyphs">100.00%(1.2659)</text>
<text x="643.2" y="258.2" fill="#c98ad8" font-size="6.6" text-anchor="end" font-weight="normal" font-style="normal" textLength="44.8" lengthAdjust="spacingAndGlyphs">61.80%(1.2498)</text>
<text x="644" y="311.9" fill="#a8a8a8" font-size="6.6" text-anchor="end" font-weight="normal" font-style="italic" textLength="24.6" lengthAdjust="spacingAndGlyphs">May LWC</text>
<text x="644" y="330.3" fill="#5a5a5a" font-size="6.6" text-anchor="end" font-weight="normal" font-style="normal" textLength="60.8" lengthAdjust="spacingAndGlyphs">Post-Brexit Low 2016</text>
<text x="643.3" y="400" fill="#3a80d2" font-size="6.6" text-anchor="end" font-weight="normal" font-style="normal" textLength="48.3" lengthAdjust="spacingAndGlyphs">100.00%(1.1446)</text>
</g>
<line x1="648.0" y1="0.0" x2="648.0" y2="421.0" stroke="#dcdcdc" stroke-width="1" />
<line x1="0.0" y1="407.3" x2="679.0" y2="407.3" stroke="#d2d2d2" stroke-width="1" />
<text x="665.3" y="3.5" fill="#5a5a5a" font-size="7.1" text-anchor="middle" font-weight="normal">1.4400</text>
<text x="665.3" y="86.6" fill="#5a5a5a" font-size="7.1" text-anchor="middle" font-weight="normal">1.3800</text>
<text x="665.3" y="114.2" fill="#5a5a5a" font-size="7.1" text-anchor="middle" font-weight="normal">1.3600</text>
<text x="665.3" y="168.6" fill="#5a5a5a" font-size="7.1" text-anchor="middle" font-weight="normal">1.3200</text>
<text x="665.3" y="194.5" fill="#5a5a5a" font-size="7.1" text-anchor="middle" font-weight="normal">1.3000</text>
<text x="665.3" y="220.2" fill="#5a5a5a" font-size="7.1" text-anchor="middle" font-weight="normal">1.2800</text>
<text x="665.3" y="248.8" fill="#5a5a5a" font-size="7.1" text-anchor="middle" font-weight="normal">1.2600</text>
<text x="665.3" y="274.6" fill="#5a5a5a" font-size="7.1" text-anchor="middle" font-weight="normal">1.2400</text>
<text x="665.3" y="301.9" fill="#5a5a5a" font-size="7.1" text-anchor="middle" font-weight="normal">1.2200</text>
<text x="665.3" y="328.6" fill="#5a5a5a" font-size="7.1" text-anchor="middle" font-weight="normal">1.2000</text>
<text x="665.3" y="356.6" fill="#5a5a5a" font-size="7.1" text-anchor="middle" font-weight="normal">1.1800</text>
<text x="665.3" y="383.4" fill="#5a5a5a" font-size="7.1" text-anchor="middle" font-weight="normal">1.1600</text>
<rect x="654.6" y="2.5" width="21.6" height="12.6" rx="2" fill="#fff" stroke="#d9d9d9" stroke-width="0.8"/>
<text x="657.2" y="11.4" fill="#5a5a5a" font-size="7" textLength="12.6" lengthAdjust="spacingAndGlyphs">USD</text>
<path d="M672.2 8.2 l1.3 1.4 l1.3 -1.4" fill="none" stroke="#777" stroke-width="0.7"/>
<rect x="648.0" y="20.2" width="31.0" height="22.0" fill="#9c9c9c"/>
<text x="665.3" y="29.2" fill="#1c1c1c" font-size="7.1" text-anchor="middle" font-weight="normal">1.4236</text>
<text x="665.3" y="39.4" fill="#1c1c1c" font-size="7.1" text-anchor="middle" font-weight="normal">1.4155</text>
<rect x="648.0" y="52.7" width="31.0" height="10.3" fill="#d0d0d0"/>
<text x="665.3" y="60.5" fill="#1c1c1c" font-size="7.1" text-anchor="middle" font-weight="normal">1.3997</text>
<rect x="648.0" y="94.6" width="31.0" height="12.0" fill="#9c9c9c"/>
<rect x="648.0" y="94.4" width="31" height="1.2" fill="#3f8fe6"/>
<text x="665.3" y="104.1" fill="#1c1c1c" font-size="7.1" text-anchor="middle" font-weight="normal">1.3676</text>
<rect x="648.0" y="115.4" width="31.0" height="11.7" fill="#ff00ff"/>
<text x="665.3" y="124.0" fill="#fff" font-size="7.1" text-anchor="middle" font-weight="normal">1.3529</text>
<rect x="648.0" y="133.6" width="31.0" height="10.8" fill="#9c9c9c"/>
<text x="665.3" y="141.8" fill="#1c1c1c" font-size="7.1" text-anchor="middle" font-weight="normal">1.3398</text>
<rect x="648.0" y="150.7" width="31.0" height="11.5" fill="#a3a3a3"/>
<rect x="648.0" y="162" width="31" height="2.3" fill="#ff14c8"/>
<text x="665.3" y="159.2" fill="#1c1c1c" font-size="7.1" text-anchor="middle" font-weight="normal">1.3271</text>
<rect x="648.0" y="173" width="31.0" height="10.6" fill="#1f3f8c"/>
<text x="665.3" y="180.9" fill="#fff" font-size="7.1" text-anchor="middle" font-weight="normal">1.3105</text>
<rect x="648.0" y="220.2" width="31.0" height="11.4" fill="#ff00ff"/>
<text x="665.3" y="228.8" fill="#fff" font-size="7.1" text-anchor="middle" font-weight="normal">1.2754</text>
<rect x="648.0" y="299" width="31.0" height="11.0" fill="#8c8c94"/>
<text x="665.3" y="307.8" fill="#1c1c1c" font-size="7.1" text-anchor="middle" font-weight="normal">1.2166</text>
<rect x="648.0" y="328.9" width="31.0" height="9.7" fill="#d0d0d0"/>
<text x="665.3" y="336.8" fill="#1c1c1c" font-size="7.1" text-anchor="middle" font-weight="normal">1.1950</text>
<text x="11.8" y="418.4" fill="#2e2e2e" font-size="7.5" text-anchor="middle" font-weight="bold">2019</text>
<text x="63.6" y="418.4" fill="#6e6e6e" font-size="7.5" text-anchor="middle" font-weight="normal">May</text>
<text x="116.4" y="418.4" fill="#6e6e6e" font-size="7.5" text-anchor="middle" font-weight="normal">Sep</text>
<text x="172.6" y="418.4" fill="#2e2e2e" font-size="7.5" text-anchor="middle" font-weight="bold">2020</text>
<text x="225" y="418.4" fill="#6e6e6e" font-size="7.5" text-anchor="middle" font-weight="normal">May</text>
<text x="280.8" y="418.4" fill="#6e6e6e" font-size="7.5" text-anchor="middle" font-weight="normal">Sep</text>
<text x="333.6" y="418.4" fill="#2e2e2e" font-size="7.5" text-anchor="middle" font-weight="bold">2021</text>
<text x="386" y="418.4" fill="#6e6e6e" font-size="7.5" text-anchor="middle" font-weight="normal">May</text>
<text x="442" y="418.4" fill="#6e6e6e" font-size="7.5" text-anchor="middle" font-weight="normal">Sep</text>
<text x="495" y="418.4" fill="#2e2e2e" font-size="7.5" text-anchor="middle" font-weight="bold">2022</text>
<text x="547.3" y="418.4" fill="#6e6e6e" font-size="7.5" text-anchor="middle" font-weight="normal">May</text>
<text x="603.3" y="418.4" fill="#6e6e6e" font-size="7.5" text-anchor="middle" font-weight="normal">Sep</text>
<g transform="translate(665.2,415.4)" fill="none" stroke="#2e2e2e"><circle r="2.4" stroke-width="0.9"/><line x1="0" y1="-2.6" x2="0" y2="-3.8" stroke-width="1.2" transform="rotate(0)"/><line x1="0" y1="-2.6" x2="0" y2="-3.8" stroke-width="1.2" transform="rotate(45)"/><line x1="0" y1="-2.6" x2="0" y2="-3.8" stroke-width="1.2" transform="rotate(90)"/><line x1="0" y1="-2.6" x2="0" y2="-3.8" stroke-width="1.2" transform="rotate(135)"/><line x1="0" y1="-2.6" x2="0" y2="-3.8" stroke-width="1.2" transform="rotate(180)"/><line x1="0" y1="-2.6" x2="0" y2="-3.8" stroke-width="1.2" transform="rotate(225)"/><line x1="0" y1="-2.6" x2="0" y2="-3.8" stroke-width="1.2" transform="rotate(270)"/><line x1="0" y1="-2.6" x2="0" y2="-3.8" stroke-width="1.2" transform="rotate(315)"/></g>
<rect x="0" y="0" width="430" height="15" fill="#fff" fill-opacity="0.0"/>
<text x="4.4" y="12" fill="#5e5e5e" font-size="8.6" textLength="198.6" lengthAdjust="spacingAndGlyphs">British Pound / U.S. Dollar · 1W · IDC · TradingView</text>
<path d="M210 5.3 h7.1 l-2.2 3.35 l2.2 3.35 h-7.1 z" fill="#ff8f0e"/>
<circle cx="232.5" cy="8.5" r="4.4" fill="#e2efee"/><circle cx="232.5" cy="8.5" r="2.3" fill="#158a7c"/>
<text x="246.6" y="11.9" font-size="8.4" textLength="26.4" lengthAdjust="spacingAndGlyphs"><tspan fill="#444">O</tspan><tspan fill="#32559a">1.3243</tspan></text>
<text x="277.2" y="11.9" font-size="8.4" textLength="26.4" lengthAdjust="spacingAndGlyphs"><tspan fill="#444">H</tspan><tspan fill="#32559a">1.3248</tspan></text>
<text x="307.8" y="11.9" font-size="8.4" textLength="25" lengthAdjust="spacingAndGlyphs"><tspan fill="#444">L</tspan><tspan fill="#32559a">1.3082</tspan></text>
<text x="336.4" y="11.9" font-size="8.4" textLength="26" lengthAdjust="spacingAndGlyphs"><tspan fill="#444">C</tspan><tspan fill="#32559a">1.3105</tspan></text>
<text x="365.7" y="11.9" font-size="8.4" fill="#32559a" textLength="55.5" lengthAdjust="spacingAndGlyphs">−0.0121 (−0.91%)</text>
</svg></body></html>
